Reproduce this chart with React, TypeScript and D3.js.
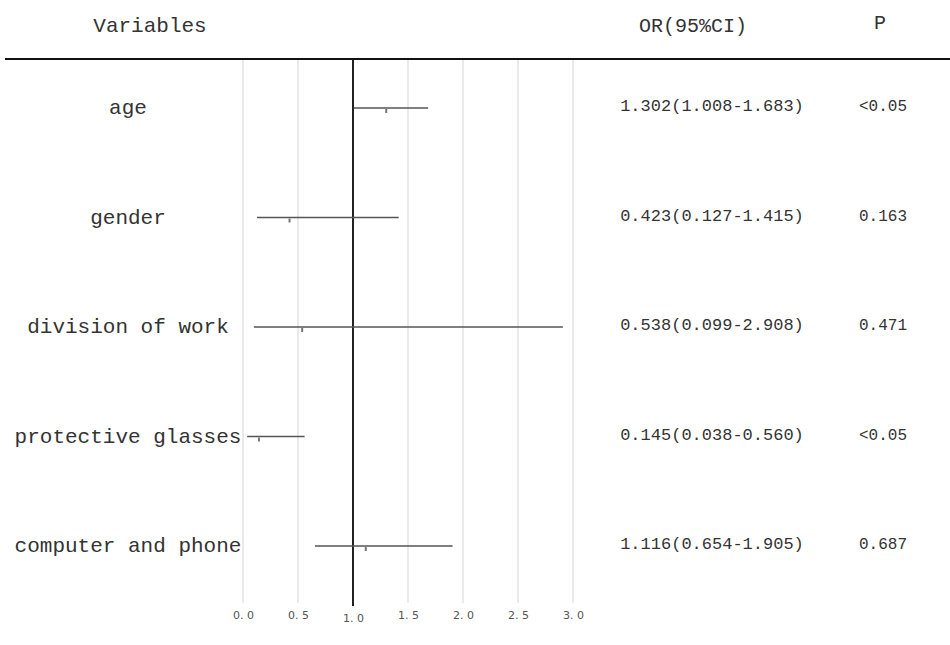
import React, { useRef, useEffect } from 'react';
import * as d3 from 'd3';

const variables = ['age', 'gender', 'division of work', 'protective glasses', 'computer and phone'];
const orValues = [1.302, 0.423, 0.538, 0.145, 1.116];
const lowerCI = [1.008, 0.127, 0.099, 0.038, 0.654];
const upperCI = [1.683, 1.415, 2.908, 0.56, 1.905];
const orLabels = [
  '1.302(1.008-1.683)',
  '0.423(0.127-1.415)',
  '0.538(0.099-2.908)',
  '0.145(0.038-0.560)',
  '1.116(0.654-1.905)'
];
const pLabels = ['<0.05', '0.163', '0.471', '<0.05', '0.687'];
const xTicks = [0, 0.5, 1, 1.5, 2, 2.5, 3];

const App = () => {
  const svgRef = useRef<SVGSVGElement>(null);
  const w = 950;
  const h = 645;

  useEffect(() => {
    const svg = d3.select(svgRef.current);
    svg.selectAll('*').remove();

    const mono = '"Liberation Mono", monospace';
    const x = d3.scaleLinear().domain([0, 3]).range([243, 573]);
    const y = d3.scalePoint<number>().domain(variables.map((_, i) => i)).range([108, 546]);
    const top = 60;
    const bottom = 603;

    // headers
    svg.append('text').attr('x', 150).attr('y', 32).attr('text-anchor', 'middle')
      .style('font-family', mono).style('font-size', '21px').attr('fill', '#333').text('Variables');
    svg.append('text').attr('x', 693).attr('y', 32).attr('text-anchor', 'middle')
      .style('font-family', mono).style('font-size', '20px').attr('fill', '#333').text('OR(95%CI)');
    svg.append('text').attr('x', 880).attr('y', 29).attr('text-anchor', 'middle')
      .style('font-family', mono).style('font-size', '20px').attr('fill', '#333').text('P');

    // grid
    svg.selectAll('.grid').data(xTicks).join('line')
      .attr('x1', (d) => x(d)).attr('x2', (d) => x(d))
      .attr('y1', top).attr('y2', bottom)
      .attr('stroke', '#dcdcdc').attr('stroke-width', 1.2);

    // header rule
    svg.append('line').attr('x1', 5).attr('x2', 950).attr('y1', 59).attr('y2', 59)
      .attr('stroke', '#111').attr('stroke-width', 2);

    // reference line at 1
    svg.append('line').attr('x1', x(1)).attr('x2', x(1)).attr('y1', top).attr('y2', 606)
      .attr('stroke', '#222').attr('stroke-width', 2);

    // axis labels
    const axis = d3.axisBottom(x).tickValues(xTicks).tickSize(0)
      .tickFormat((d) => d3.format('.1f')(d as number).replace('.', '. '));
    const g = svg.append('g').attr('transform', 'translate(0, 606)').call(axis);
    g.select('.domain').remove();
    g.selectAll('text')
      .style('font-family', '"DejaVu Sans", sans-serif').style('font-size', '11px')
      .attr('fill', '#555')
      .attr('dy', (d) => ((d as number) === 1 ? '1.2em' : '0.95em'));

    // CI lines
    svg.selectAll('.ci').data(variables).join('line')
      .attr('x1', (_, i) => x(lowerCI[i])).attr('x2', (_, i) => x(upperCI[i]))
      .attr('y1', (_, i) => y(i)!).attr('y2', (_, i) => y(i)!)
      .attr('stroke', '#555').attr('stroke-width', 1.5);

    // point marks
    svg.selectAll('.pt').data(variables).join('line')
      .attr('x1', (_, i) => x(orValues[i])).attr('x2', (_, i) => x(orValues[i]))
      .attr('y1', (_, i) => y(i)! + 1).attr('y2', (_, i) => y(i)! + 5)
      .attr('stroke', '#777').attr('stroke-width', 2);

    // variable labels
    svg.selectAll('.var').data(variables).join('text')
      .attr('x', 128).attr('y', (_, i) => y(i)! + 6)
      .attr('text-anchor', 'middle')
      .style('font-family', mono).style('font-size', '21px').attr('fill', '#333')
      .text((d) => d);

    // OR labels
    svg.selectAll('.or').data(orLabels).join('text')
      .attr('x', 712).attr('y', (_, i) => y(i)! + 3)
      .attr('text-anchor', 'middle')
      .style('font-family', mono).style('font-size', '17px').attr('fill', '#333')
      .text((d) => d);

    // P labels
    svg.selectAll('.p').data(pLabels).join('text')
      .attr('x', 883).attr('y', (_, i) => y(i)! + 3)
      .attr('text-anchor', 'middle')
      .style('font-family', mono).style('font-size', '16px').attr('fill', '#333')
      .text((d) => d);
  }, []);

  return (
    <div style={{ position: 'absolute', left: 0, top: 0 }}>
      <svg ref={svgRef} width={w} height={h} style={{ display: 'block', background: '#fff' }} />
    </div>
  );
};

export default App;
